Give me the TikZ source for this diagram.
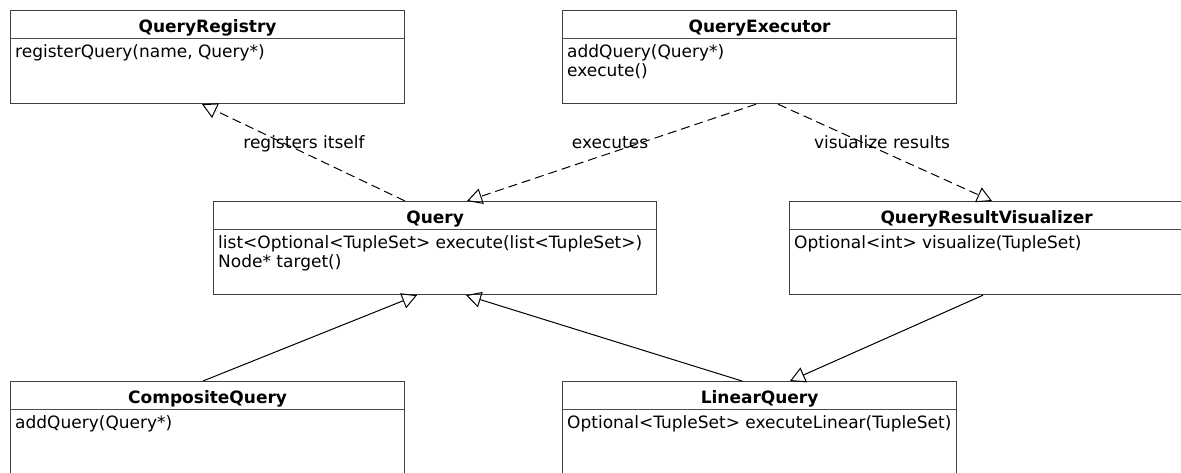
\documentclass[tikz,border=0pt]{standalone}
\usepackage{fontspec}
\setmainfont{DejaVu Sans}
\usetikzlibrary{arrows.meta,calc}

\tikzset{
  classbox/.style={draw=black!75, line width=1.2pt, rectangle, inner sep=0pt,
    anchor=north west, minimum width=394pt, minimum height=93pt},
  classname/.style={anchor=base, inner sep=0pt, font=\fontsize{17}{19}\selectfont\bfseries},
  member/.style={anchor=base west, inner sep=0pt, font=\fontsize{17}{19}\selectfont},
  headrule/.style={draw=black!70, line width=1pt},
  edgelabel/.style={anchor=base, inner sep=0pt, font=\fontsize{17}{19}\selectfont},
  opentip/.style={-{Triangle[open,length=15pt,width=16pt]}},
  dependency/.style={draw=black, line width=1pt, dash pattern=on 9pt off 5pt, opentip},
  generalization/.style={draw=black, line width=1pt, opentip},
}

\begin{document}
\begin{tikzpicture}[x=1pt,y=-1pt]
  \useasboundingbox (0,0) rectangle (1181,472);
  \clip (0,0) rectangle (1181,472);

  % ---- class boxes ----
  \node[classbox] (reg) at (10,10) {};
  \node[classbox] (exe) at (562,10) {};
  \node[classbox, minimum width=443pt] (qry) at (213,201) {};
  \node[classbox] (qrv) at (789,201) {};
  \node[classbox] (cmp) at (10,381) {};
  \node[classbox] (lin) at (562,381) {};

  % ---- header separators ----
  \foreach \c in {reg,exe,qry,qrv,cmp,lin}
    \draw[headrule] ($(\c.north west)+(0,28)$) -- ($(\c.north east)+(0,28)$);

  % ---- class names ----
  \node[classname] (reg-name) at ($(reg.north)+(0,22)$) {QueryRegistry};
  \node[classname] (exe-name) at ($(exe.north)+(0,22)$) {QueryExecutor};
  \node[classname] (qry-name) at ($(qry.north)+(0,22)$) {Query};
  \node[classname] (qrv-name) at ($(qrv.north)+(0,22)$) {QueryResultVisualizer};
  \node[classname] (cmp-name) at ($(cmp.north)+(0,22)$) {CompositeQuery};
  \node[classname] (lin-name) at ($(lin.north)+(0,22)$) {LinearQuery};

  % ---- operations ----
  \node[member] (reg-op1) at ($(reg.north west)+(5,47)$) {registerQuery(name, Query*)};
  \node[member] (exe-op1) at ($(exe.north west)+(5,47)$) {addQuery(Query*)};
  \node[member] (exe-op2) at ($(exe.north west)+(5,66)$) {execute()};
  \node[member] (qry-op1) at ($(qry.north west)+(5,47)$) {list<Optional<TupleSet> execute(list<TupleSet>)};
  \node[member] (qry-op2) at ($(qry.north west)+(5,66)$) {Node* target()};
  \node[member] (qrv-op1) at ($(qrv.north west)+(5,47)$) {Optional<int> visualize(TupleSet)};
  \node[member] (cmp-op1) at ($(cmp.north west)+(5,47)$) {addQuery(Query*)};
  \node[member] (lin-op1) at ($(lin.north west)+(5,47)$) {Optional<TupleSet> executeLinear(TupleSet)};

  % ---- dependencies ----
  \draw[dependency] ([xshift=192pt]qry.north west) -- ([xshift=192pt]reg.south west);
  \draw[dependency] ([xshift=194pt]exe.south west) -- ([xshift=254pt]qry.north west);
  \draw[dependency] ([xshift=216pt]exe.south west) -- ([xshift=203pt]qrv.north west);

  % ---- generalizations ----
  \draw[generalization] ([xshift=193pt]cmp.north west) -- ([xshift=204pt]qry.south west);
  \draw[generalization] ([xshift=180pt]lin.north west) -- ([xshift=253pt]qry.south west);
  \draw[generalization] ([xshift=194pt]qrv.south west) -- ([xshift=228pt]lin.north west);

  % ---- connector labels ----
  \node[edgelabel] (lbl-reg) at (304,148) {registers itself};
  \node[edgelabel] (lbl-exe) at (610,148) {executes};
  \node[edgelabel] (lbl-vis) at (882,148) {visualize results};
\end{tikzpicture}
\end{document}
